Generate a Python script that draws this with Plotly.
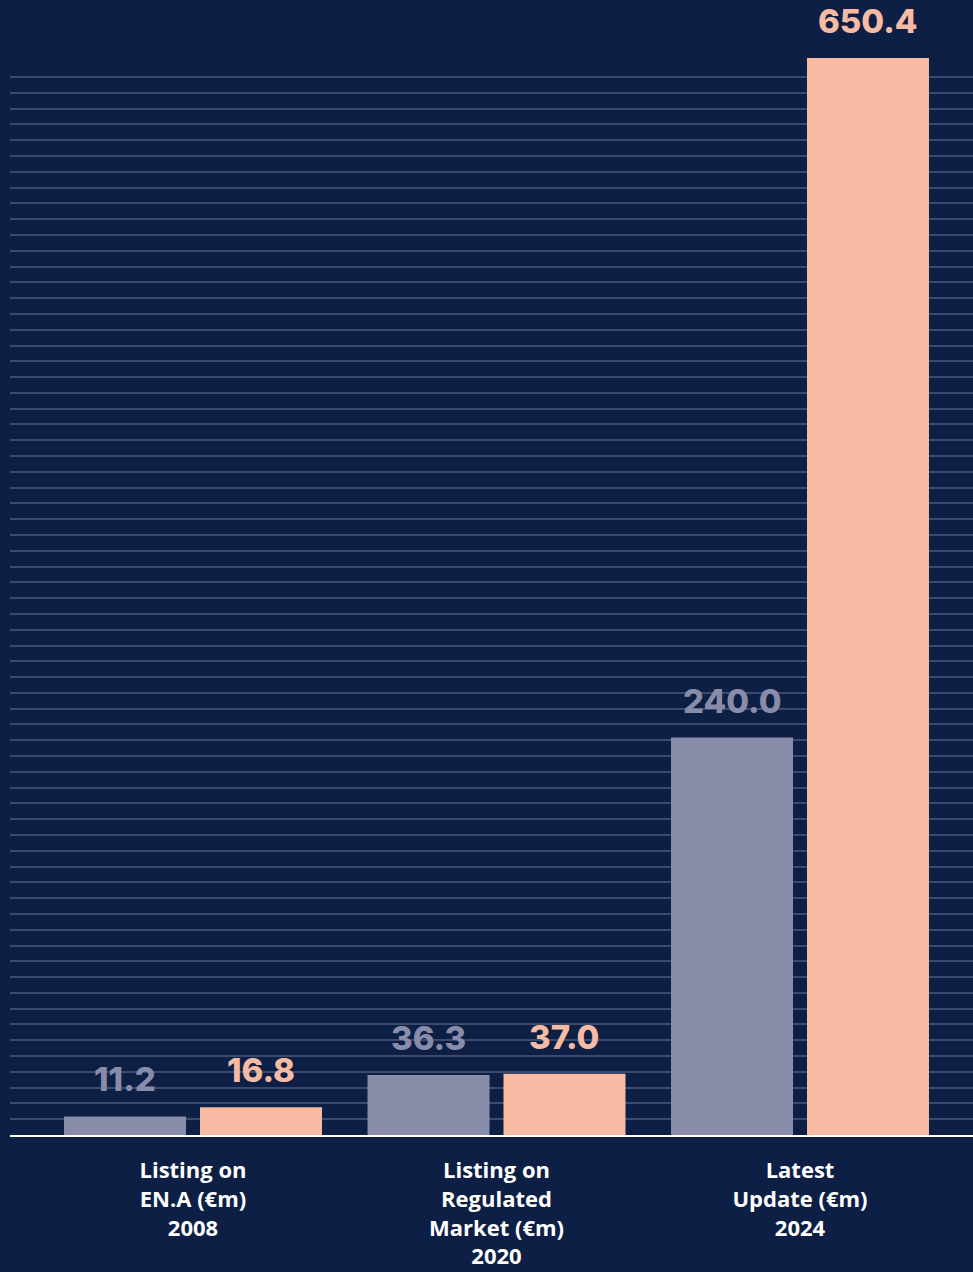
import numpy as np
import plotly.graph_objects as go

# dados do gráfico
categorias = [
    "Listing on<br>EN.A (€m)<br>2008",
    "Listing on<br>Regulated<br>Market (€m)<br>2020",
    "Latest<br>Update (€m)<br>2024",
]
serie_cinza = [11.2, 36.3, 240.0]
serie_salmao = [16.8, 37.0, 650.4]

FUNDO = "#0d1f45"
CINZA = "#888ca9"
SALMAO = "#f6bba2"
GRADE = "#3b4a6d"

LARGURA = 0.402
OFFSETS = [-0.425, 0.023]

fig = go.Figure()

for valores, cor, off in [(serie_cinza, CINZA, OFFSETS[0]), (serie_salmao, SALMAO, OFFSETS[1])]:
    fig.add_trace(
        go.Bar(
            x=list(range(len(categorias))),
            y=valores,
            width=LARGURA,
            offset=off,
            marker=dict(color=cor, line=dict(width=0)),
            hoverinfo="skip",
        )
    )

# rótulos de valor acima das barras
anotacoes = []
for valores, cor, off in [(serie_cinza, CINZA, OFFSETS[0]), (serie_salmao, SALMAO, OFFSETS[1])]:
    for i, v in enumerate(valores):
        anotacoes.append(
            dict(
                x=i + off + LARGURA / 2,
                y=v,
                xref="x",
                yref="y",
                text=f"{v:.1f}",
                showarrow=False,
                yanchor="middle",
                yshift=37,
                font=dict(family="Inter", size=33, color=cor, weight=800),
            )
        )

# linhas de grade decorativas
passo = 9.535
grade = [passo * k for k in range(1, 68)]

fig.update_layout(
    width=973,
    height=1272,
    margin=dict(l=10, r=0, t=0, b=137),
    paper_bgcolor=FUNDO,
    plot_bgcolor=FUNDO,
    showlegend=False,
    barmode="overlay",
    annotations=anotacoes,
    xaxis=dict(
        range=[-0.603, 2.57],
        tickvals=list(range(len(categorias))),
        ticktext=categorias,
        showgrid=False,
        zeroline=False,
        showline=True,
        linecolor="white",
        linewidth=2,
        ticks="",
        ticklabelstandoff=15,
        tickfont=dict(family="Open Sans", size=22, color="white", weight="bold"),
    ),
    yaxis=dict(
        range=[0, 1135 / 1.656],
        tickvals=grade,
        showticklabels=False,
        showgrid=True,
        gridcolor=GRADE,
        gridwidth=1.5,
        zeroline=False,
        showline=False,
    ),
)

# tira a margem padrão da página
fig.write_html(
    "out.html",
    config={"displayModeBar": False},
    post_script="document.body.style.margin='0';",
)
